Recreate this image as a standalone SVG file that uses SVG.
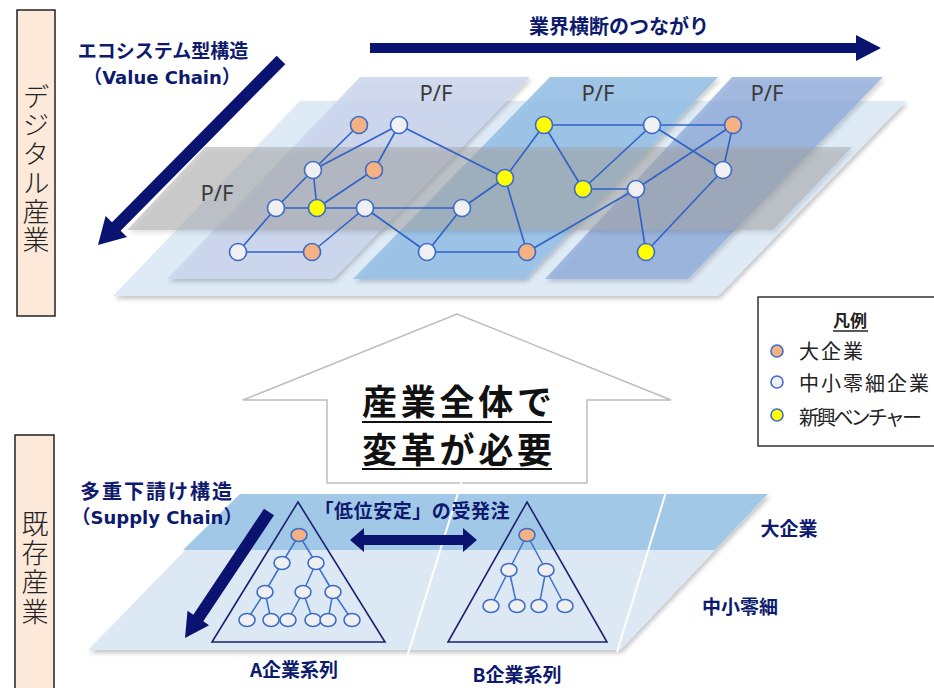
<svg xmlns="http://www.w3.org/2000/svg" width="934" height="688" viewBox="0 0 934 688">
<style>
.jp{font-family:"Noto Sans CJK JP","Noto Sans",sans-serif}
.lat{font-family:"DejaVu Sans","Noto Sans CJK JP",sans-serif}
.navy{fill:#0d1a6e;font-weight:bold}
.side{font-family:"Noto Sans CJK JP",sans-serif;font-size:27px;fill:#222;font-weight:300;writing-mode:vertical-rl;text-orientation:upright}
.pf{font-family:"Noto Sans","Open Sans",sans-serif;font-size:22px;fill:#3a3a3a;text-anchor:middle}
.edge{stroke:#2f62c6;stroke-width:1.6;fill:none}
.tedge{stroke:#3f6fcc;stroke-width:1.5;fill:none}
.nd{stroke:#3d6cc8;stroke-width:1.6}
.w{fill:#f0f0f2}
.o{fill:#f4b183}
.y{fill:#ffff00}
.arrow{fill:#0a1470}
.tri{fill:none;stroke:#1a2270;stroke-width:1.6}
.leg{font-family:"Noto Sans CJK JP",sans-serif;font-size:20px;fill:#222}
.big{font-family:"Noto Sans CJK JP",sans-serif;font-size:35px;font-weight:bold;fill:#111}
</style>
<defs>
<filter id="sh" x="-5%" y="-5%" width="115%" height="120%">
<feDropShadow dx="2" dy="3" stdDeviation="2" flood-color="#000" flood-opacity="0.22"/>
</filter>
</defs>

<!-- side labels -->
<g id="digital-label">
<rect x="17" y="10" width="38" height="306" fill="#fde9d9" stroke="#222" stroke-width="1.5"/>
<text class="side" x="36" y="83" letter-spacing="1.7">デジタル産業</text>
</g>
<g id="existing-label">
<rect x="15" y="435" width="39" height="270" fill="#fde9d9" stroke="#222" stroke-width="1.5"/>
<text class="side" x="35" y="510" letter-spacing="2.3">既存産業</text>
</g>

<!-- top planes -->
<g id="top-planes">
<polygon points="300,101 906,101 718,296 113,296" fill="#deebf7" filter="url(#sh)"/>
<polygon points="360,77 530,77 333,279 167,279" fill="#cbd6ee" fill-opacity="0.85" filter="url(#sh)"/>
<polygon points="550,77 718,77 525,279 353,279" fill="#98c1e5" fill-opacity="0.9" filter="url(#sh)"/>
<polygon points="732,77 883,77 688,279 545,279" fill="#8eaadb" fill-opacity="0.75" filter="url(#sh)"/>
<polygon points="205,147 852,147 773,230 127,230" fill="#a6a6a6" fill-opacity="0.5" filter="url(#sh)"/>
<text class="pf" x="436" y="101">P/F</text>
<text class="pf" x="598" y="101">P/F</text>
<text class="pf" x="767" y="101">P/F</text>
<text class="pf" x="217" y="201">P/F</text>
</g>

<!-- top labels and arrows -->
<g id="label-horizontal">
<text class="jp navy" x="619" y="34" font-size="20" text-anchor="middle">業界横断のつながり</text>
<polygon class="arrow" points="370,43 856,43 856,35 881,48 856,61 856,53 370,53"/>
</g>
<g id="label-ecosystem">
<text class="jp navy" x="163" y="58" font-size="19" text-anchor="middle">エコシステム型構造</text>
<text class="jp navy" x="162" y="84" font-size="19" text-anchor="middle">（<tspan class="lat" font-size="18">Value Chain</tspan>）</text>
<polygon class="arrow" points="276.7,55.8 285.3,64.2 120.6,230.7 127,237 98,245 105.6,216 112,222.3"/>
</g>

<!-- connectors: top network -->
<g id="connectors">
<line class="edge" x1="238" y1="252" x2="312" y2="252"/>
<line class="edge" x1="238" y1="252" x2="276" y2="208"/>
<line class="edge" x1="276" y1="208" x2="317" y2="208"/>
<line class="edge" x1="276" y1="208" x2="313" y2="170"/>
<line class="edge" x1="313" y1="170" x2="359" y2="125"/>
<line class="edge" x1="313" y1="170" x2="399" y2="125"/>
<line class="edge" x1="313" y1="170" x2="317" y2="208"/>
<line class="edge" x1="317" y1="208" x2="365" y2="208"/>
<line class="edge" x1="317" y1="208" x2="374" y2="170"/>
<line class="edge" x1="374" y1="170" x2="399" y2="125"/>
<line class="edge" x1="399" y1="125" x2="505" y2="178"/>
<line class="edge" x1="365" y1="208" x2="312" y2="252"/>
<line class="edge" x1="365" y1="208" x2="462" y2="208"/>
<line class="edge" x1="365" y1="208" x2="427" y2="252"/>
<line class="edge" x1="427" y1="252" x2="462" y2="208"/>
<line class="edge" x1="427" y1="252" x2="527" y2="252"/>
<line class="edge" x1="462" y1="208" x2="505" y2="178"/>
<line class="edge" x1="505" y1="178" x2="544" y2="125"/>
<line class="edge" x1="505" y1="178" x2="527" y2="252"/>
<line class="edge" x1="527" y1="252" x2="636" y2="189"/>
<line class="edge" x1="544" y1="125" x2="652" y2="125"/>
<line class="edge" x1="544" y1="125" x2="583" y2="189"/>
<line class="edge" x1="583" y1="189" x2="636" y2="189"/>
<line class="edge" x1="583" y1="189" x2="652" y2="125"/>
<line class="edge" x1="652" y1="125" x2="733" y2="125"/>
<line class="edge" x1="652" y1="125" x2="723" y2="170"/>
<line class="edge" x1="733" y1="125" x2="723" y2="170"/>
<line class="edge" x1="733" y1="125" x2="636" y2="189"/>
<line class="edge" x1="636" y1="189" x2="646" y2="252"/>
<line class="edge" x1="723" y1="170" x2="646" y2="252"/>
</g>

<!-- top network nodes -->
<g id="n1"><circle class="nd o" cx="359" cy="125" r="8.5"/></g>
<g id="n2"><circle class="nd w" cx="399" cy="125" r="8.5"/></g>
<g id="n3"><circle class="nd w" cx="313" cy="170" r="8.5"/></g>
<g id="n4"><circle class="nd o" cx="374" cy="170" r="8.5"/></g>
<g id="n5"><circle class="nd w" cx="276" cy="208" r="8.5"/></g>
<g id="n6"><circle class="nd y" cx="317" cy="208" r="8.5"/></g>
<g id="n7"><circle class="nd w" cx="365" cy="208" r="8.5"/></g>
<g id="n8"><circle class="nd w" cx="238" cy="252" r="8.5"/></g>
<g id="n9"><circle class="nd o" cx="312" cy="252" r="8.5"/></g>
<g id="n10"><circle class="nd w" cx="462" cy="208" r="8.5"/></g>
<g id="n11"><circle class="nd w" cx="427" cy="252" r="8.5"/></g>
<g id="n12"><circle class="nd y" cx="505" cy="178" r="8.5"/></g>
<g id="n13"><circle class="nd o" cx="527" cy="252" r="8.5"/></g>
<g id="n14"><circle class="nd y" cx="544" cy="125" r="8.5"/></g>
<g id="n15"><circle class="nd y" cx="583" cy="189" r="8.5"/></g>
<g id="n16"><circle class="nd w" cx="652" cy="125" r="8.5"/></g>
<g id="n17"><circle class="nd o" cx="733" cy="125" r="8.5"/></g>
<g id="n18"><circle class="nd w" cx="636" cy="189" r="8.5"/></g>
<g id="n19"><circle class="nd w" cx="723" cy="170" r="8.5"/></g>
<g id="n20"><circle class="nd y" cx="646" cy="252" r="8.5"/></g>

<!-- legend -->
<g id="legend">
<rect x="758" y="297" width="180" height="149" fill="#fff" stroke="#333" stroke-width="1.5"/>
<text class="jp" x="850" y="327" font-size="17" font-weight="bold" fill="#222" text-anchor="middle">凡例</text>
<line x1="833" y1="331" x2="868" y2="331" stroke="#222" stroke-width="1.5"/>
<circle class="nd o" cx="777" cy="351" r="6"/>
<circle class="nd w" cx="777" cy="382" r="6"/>
<circle class="nd y" cx="777" cy="415" r="6"/>
<text class="leg" x="799" y="359" textLength="64" lengthAdjust="spacing">大企業</text>
<text class="leg" x="799" y="391" textLength="130" lengthAdjust="spacing">中小零細企業</text>
<text class="leg" x="799" y="425" textLength="123" lengthAdjust="spacing">新興ベンチャー</text>
</g>

<!-- big up arrow -->
<g id="transform-arrow">
<polygon points="457,314 671,400 587,400 587,483 327,483 327,400 243,400" fill="#fff" stroke="#bdbdbd" stroke-width="1.5"/>
<text class="big" x="362" y="415" textLength="190" lengthAdjust="spacing">産業全体で</text>
<line x1="362" y1="422" x2="552" y2="422" stroke="#111" stroke-width="2"/>
<text class="big" x="362" y="463" textLength="190" lengthAdjust="spacing">変革が必要</text>
<line x1="362" y1="469" x2="552" y2="469" stroke="#111" stroke-width="2"/>
</g>

<!-- bottom plane -->
<g id="bottom-plane">
<polygon points="240,494 768,494 620,650 88,650" fill="#dce9f5" filter="url(#sh)"/>
<polygon points="240,494 768,494 715,550 183,550" fill="#a2c8e8"/>
<line x1="462" y1="480" x2="407" y2="657" stroke="#fff" stroke-width="2"/>
<line x1="666" y1="492" x2="617" y2="652" stroke="#fff" stroke-width="2"/>
<text class="jp navy" x="789" y="536" font-size="19" text-anchor="middle">大企業</text>
<text class="jp navy" x="740" y="614" font-size="19" text-anchor="middle">中小零細</text>
</g>

<g id="label-supply">
<text class="jp navy" x="156" y="499" font-size="20" text-anchor="middle" textLength="152" lengthAdjust="spacing">多重下請け構造</text>
<text class="jp navy" x="157" y="524" font-size="19" text-anchor="middle">（<tspan class="lat" font-size="18">Supply Chain</tspan>）</text>
<polygon class="arrow" points="264,508.7 274,515.3 203.3,621.3 209.1,625.2 185,638 187.5,610.8 193.3,614.7"/>
</g>

<g id="label-order">
<text class="jp navy" x="412" y="518" font-size="19" text-anchor="middle" textLength="195" lengthAdjust="spacing">「低位安定」の受発注</text>
<polygon class="arrow" points="350,540 364,528 364,535 463,535 463,528 477,540 463,552 463,545 364,545 364,552"/>
</g>

<!-- tree A -->
<g id="tree-a">
<polygon class="tri" points="298,502 385,642 212,642"/>
<g class="tedge">
<line x1="299" y1="535" x2="282" y2="563"/><line x1="299" y1="535" x2="316" y2="563"/>
<line x1="282" y1="563" x2="265" y2="592"/><line x1="316" y1="563" x2="303" y2="592"/><line x1="316" y1="563" x2="333" y2="592"/>
<line x1="265" y1="592" x2="247" y2="620"/><line x1="265" y1="592" x2="271" y2="620"/>
<line x1="303" y1="592" x2="288" y2="620"/><line x1="303" y1="592" x2="313" y2="620"/>
<line x1="333" y1="592" x2="328" y2="620"/><line x1="333" y1="592" x2="352" y2="620"/>
</g>
<g id="a-top"><ellipse class="nd o" cx="299" cy="535" rx="8" ry="6.5"/></g>
<g id="a-2a"><ellipse class="nd w" cx="282" cy="563" rx="8" ry="6.5"/></g>
<g id="a-2b"><ellipse class="nd w" cx="316" cy="563" rx="8" ry="6.5"/></g>
<g id="a-3a"><ellipse class="nd w" cx="265" cy="592" rx="8" ry="6.5"/></g>
<g id="a-3b"><ellipse class="nd w" cx="303" cy="592" rx="8" ry="6.5"/></g>
<g id="a-3c"><ellipse class="nd w" cx="333" cy="592" rx="8" ry="6.5"/></g>
<g id="a-4a"><ellipse class="nd w" cx="247" cy="620" rx="8" ry="6.5"/></g>
<g id="a-4b"><ellipse class="nd w" cx="271" cy="620" rx="8" ry="6.5"/></g>
<g id="a-4c"><ellipse class="nd w" cx="288" cy="620" rx="8" ry="6.5"/></g>
<g id="a-4d"><ellipse class="nd w" cx="313" cy="620" rx="8" ry="6.5"/></g>
<g id="a-4e"><ellipse class="nd w" cx="328" cy="620" rx="8" ry="6.5"/></g>
<g id="a-4f"><ellipse class="nd w" cx="352" cy="620" rx="8" ry="6.5"/></g>
<text class="jp navy" x="294" y="677" font-size="19" text-anchor="middle">A企業系列</text>
</g>

<!-- tree B -->
<g id="tree-b">
<polygon class="tri" points="527,502 607,642 448,642"/>
<g class="tedge">
<line x1="527" y1="535" x2="509" y2="570"/><line x1="527" y1="535" x2="546" y2="570"/>
<line x1="509" y1="570" x2="491" y2="606"/><line x1="509" y1="570" x2="517" y2="606"/>
<line x1="546" y1="570" x2="539" y2="606"/><line x1="546" y1="570" x2="565" y2="606"/>
</g>
<g id="b-top"><ellipse class="nd o" cx="527" cy="535" rx="8" ry="6.5"/></g>
<g id="b-2a"><ellipse class="nd w" cx="509" cy="570" rx="8" ry="6.5"/></g>
<g id="b-2b"><ellipse class="nd w" cx="546" cy="570" rx="8" ry="6.5"/></g>
<g id="b-3a"><ellipse class="nd w" cx="491" cy="606" rx="8" ry="6.5"/></g>
<g id="b-3b"><ellipse class="nd w" cx="517" cy="606" rx="8" ry="6.5"/></g>
<g id="b-3c"><ellipse class="nd w" cx="539" cy="606" rx="8" ry="6.5"/></g>
<g id="b-3d"><ellipse class="nd w" cx="565" cy="606" rx="8" ry="6.5"/></g>
<text class="jp navy" x="517" y="682" font-size="19" text-anchor="middle">B企業系列</text>
</g>
</svg>
